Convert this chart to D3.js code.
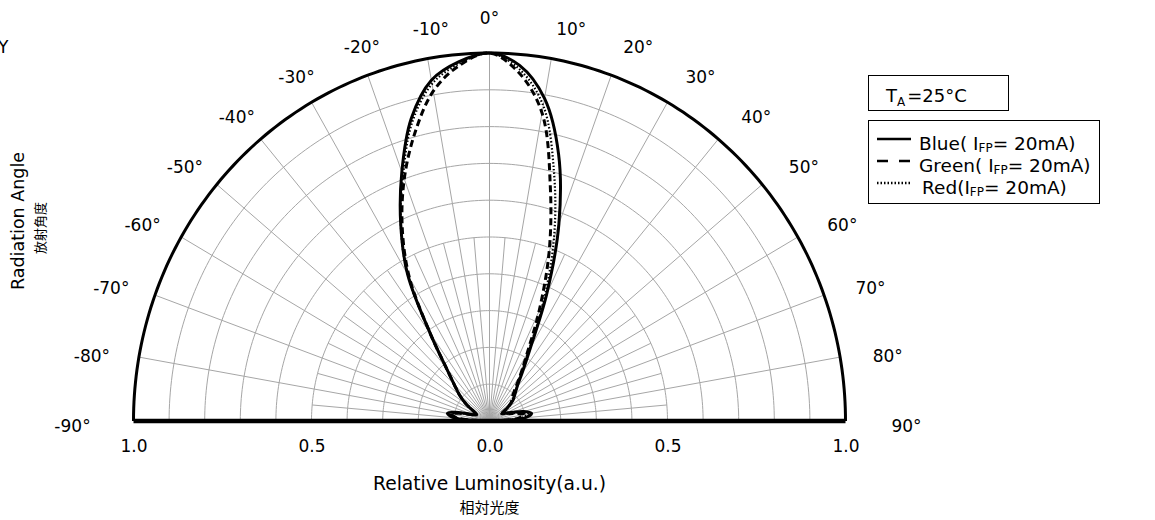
<!DOCTYPE html>
<html>
<head>
<meta charset="utf-8">
<script src="https://cdn.jsdelivr.net/npm/d3@7"></script>
<style>
  body { margin: 0; background: #fff; }
  svg text { font-family: "DejaVu Sans", Verdana, sans-serif; fill: #000; }
  .cjk { font-family: "Noto Sans CJK JP", "Noto Sans CJK SC", sans-serif; }
</style>
</head>
<body>
<div id="chart"></div>
<script>
// radiation angle (deg) and relative luminosity for each colour
var angles = [-90, -85, -80, -75, -70, -65, -60, -55, -50, -45, -40, -35, -30, -25, -20, -15, -10, -5, 0,
              5, 10, 15, 20, 25, 30, 35, 40, 45, 50, 55, 60, 65, 70, 75, 80, 85, 90];
var blue  = [0, 0.10, 0.12, 0.09, 0.05, 0.04, 0.05, 0.08, 0.11, 0.14, 0.19, 0.29, 0.46, 0.59, 0.72, 0.85, 0.94, 0.98, 1.00,
             0.97, 0.89, 0.75, 0.57, 0.38, 0.23, 0.16, 0.12, 0.10, 0.085, 0.06, 0.04, 0.05, 0.07, 0.10, 0.12, 0.10, 0];
var green = [0, 0.09, 0.11, 0.08, 0.05, 0.04, 0.05, 0.08, 0.11, 0.14, 0.19, 0.29, 0.45, 0.58, 0.70, 0.81, 0.91, 0.97, 1.00,
             0.95, 0.85, 0.66, 0.49, 0.33, 0.21, 0.15, 0.11, 0.09, 0.08, 0.06, 0.04, 0.05, 0.06, 0.08, 0.10, 0.08, 0];
var red   = [0, 0.09, 0.11, 0.08, 0.05, 0.04, 0.05, 0.08, 0.11, 0.14, 0.19, 0.29, 0.46, 0.59, 0.71, 0.84, 0.93, 0.975, 1.00,
             0.96, 0.87, 0.70, 0.53, 0.36, 0.22, 0.15, 0.12, 0.10, 0.08, 0.06, 0.04, 0.05, 0.06, 0.09, 0.11, 0.09, 0];

var angleTicks = d3.range(-90, 91, 10);
var rTicks = [-1, -0.5, 0, 0.5, 1];
var rTickLabels = ["1.0", "0.5", "0.0", "0.5", "1.0"];
var rings = [0.1, 0.2, 0.3, 0.4, 0.5, 0.6, 0.7, 0.8, 0.9];

var series = [
  { name: "Blue",  values: blue,  dash: null,    width: 3 },
  { name: "Green", values: green, dash: "7,4",   width: 3 },
  { name: "Red",   values: red,   dash: "1.5,2", width: 2.2 }
];

var width = 1155, height = 520;

var svg = d3.select("#chart").append("svg")
  .attr("width", width)
  .attr("height", height);

// horizontal and vertical scales (the plot is slightly taller than wide)
var x = d3.scaleLinear().domain([-1, 1]).range([133.5, 845.5]);
var y = d3.scaleLinear().domain([0, 1]).range([421, 53]);
var rad = function(deg) { return deg * Math.PI / 180; };

function px(deg, r) { return x(r * Math.sin(rad(deg))); }
function py(deg, r) { return y(r * Math.cos(rad(deg))); }

var arcLine = d3.line()
  .x(function(d) { return px(d.a, d.r); })
  .y(function(d) { return py(d.a, d.r); });

var sweep = d3.range(-90, 90.5, 1);

// grid rings
svg.append("g").selectAll("path")
  .data(rings)
  .enter().append("path")
  .attr("d", function(r) { return arcLine(sweep.map(function(a) { return { a: a, r: r }; })); })
  .attr("fill", "none")
  .attr("stroke", "#a6a6a6")
  .attr("stroke-width", 1);

// spokes: every 10 deg to the rim, odd 5 deg ones to half radius
var spokes = d3.range(-85, 86, 5);
svg.append("g").selectAll("line")
  .data(spokes)
  .enter().append("line")
  .attr("x1", px(0, 0))
  .attr("y1", py(0, 0))
  .attr("x2", function(a) { return px(a, a % 10 === 0 ? 1 : 0.5); })
  .attr("y2", function(a) { return py(a, a % 10 === 0 ? 1 : 0.5); })
  .attr("stroke", "#a6a6a6")
  .attr("stroke-width", 1);

// outer rim
svg.append("path")
  .attr("d", arcLine(sweep.map(function(a) { return { a: a, r: 1 }; })))
  .attr("fill", "none")
  .attr("stroke", "#000")
  .attr("stroke-width", 3);

// curves
var curve = d3.line()
  .x(function(d, i) { return px(angles[i], d); })
  .y(function(d, i) { return py(angles[i], d); })
  .curve(d3.curveCatmullRom.alpha(0.5));

svg.append("g").selectAll("path")
  .data(series)
  .enter().append("path")
  .attr("d", function(s) { return curve(s.values); })
  .attr("fill", "none")
  .attr("stroke", "#000")
  .attr("stroke-width", function(s) { return s.width; })
  .attr("stroke-dasharray", function(s) { return s.dash; })
  .attr("stroke-linejoin", "round");

// base line
svg.append("line")
  .attr("x1", x(-1)).attr("x2", x(1))
  .attr("y1", y(0)).attr("y2", y(0))
  .attr("stroke", "#000")
  .attr("stroke-width", 4.5);

// luminosity axis labels
var axis = d3.axisBottom(x)
  .tickValues(rTicks)
  .tickFormat(function(d, i) { return rTickLabels[i]; })
  .tickSize(0)
  .tickPadding(19);

var gAxis = svg.append("g")
  .attr("transform", "translate(0," + y(0) + ")")
  .call(axis);
gAxis.select(".domain").remove();
gAxis.selectAll("text")
  .attr("font-size", 17)
  .attr("font-family", "DejaVu Sans, sans-serif")
  .attr("fill", "#000");

// angle labels around the rim (slightly flattened ring, nudged right)
function labelX(a) {
  var rx = a === 90 || a === -90 ? 417 : 404;
  var nudge = a === 0 ? 0 : 12 * Math.pow(Math.cos(rad(a)), 2);
  return x(0) + rx * Math.sin(rad(a)) + nudge;
}
function labelY(a) {
  return y(0) - 403 * Math.cos(rad(a)) + (a === 0 ? 0 : 5);
}
svg.append("g").selectAll("text")
  .data(angleTicks)
  .enter().append("text")
  .attr("x", labelX)
  .attr("y", labelY)
  .attr("text-anchor", "middle")
  .attr("dominant-baseline", "central")
  .attr("font-size", 17)
  .text(function(a) { return a + "\u00b0"; });

// axis titles
svg.append("text")
  .attr("x", x(0)).attr("y", 490)
  .attr("text-anchor", "middle")
  .attr("font-size", 18.7)
  .text("Relative Luminosity(a.u.)");
svg.append("text")
  .attr("class", "cjk")
  .attr("x", x(0)).attr("y", 513)
  .attr("text-anchor", "middle")
  .attr("font-size", 15)
  .text("相対光度");

svg.append("text")
  .attr("transform", "translate(24,221) rotate(-90)")
  .attr("text-anchor", "middle")
  .attr("font-size", 17.5)
  .text("Radiation Angle");
svg.append("text")
  .attr("class", "cjk")
  .attr("transform", "translate(45,228) rotate(-90)")
  .attr("text-anchor", "middle")
  .attr("font-size", 13)
  .text("放射角度");

svg.append("text")
  .attr("x", -2).attr("y", 53)
  .attr("font-size", 17)
  .text("Y");

// ambient temperature box
svg.append("rect")
  .attr("x", 868.5).attr("y", 75.5)
  .attr("width", 140).attr("height", 35)
  .attr("fill", "none").attr("stroke", "#000").attr("stroke-width", 1);
var ta = svg.append("text").attr("x", 886).attr("y", 102).attr("font-size", 18);
ta.append("tspan").text("T");
ta.append("tspan").attr("font-size", 12).attr("dy", 4).text("A");
ta.append("tspan").attr("dy", -4).attr("dx", 2).text("=25\u00b0C");

// legend
svg.append("rect")
  .attr("x", 868.5).attr("y", 120.5)
  .attr("width", 231).attr("height", 83)
  .attr("fill", "none").attr("stroke", "#000").attr("stroke-width", 1);

var leg = svg.append("g").selectAll("g")
  .data(series)
  .enter().append("g")
  .attr("transform", function(d, i) { return "translate(0," + (139 + i * 22) + ")"; });

leg.append("line")
  .attr("x1", 877).attr("x2", 911)
  .attr("y1", 0).attr("y2", 0)
  .attr("stroke", "#000")
  .attr("stroke-width", 2.5)
  .attr("stroke-dasharray", function(d) { return d.name === "Green" ? "11,11" : d.dash; });

var lt = leg.append("text")
  .attr("x", function(d) { return d.name === "Red" ? 922 : 919; })
  .attr("y", 11)
  .attr("font-size", 18.5);
lt.append("tspan").text(function(d) { return d.name === "Red" ? "Red(" : d.name + "( "; });
lt.append("tspan").text("I");
lt.append("tspan").attr("font-size", 12).attr("dy", 2).text("FP");
lt.append("tspan").attr("dy", -2).text("= 20mA)");
</script>
</body>
</html>
